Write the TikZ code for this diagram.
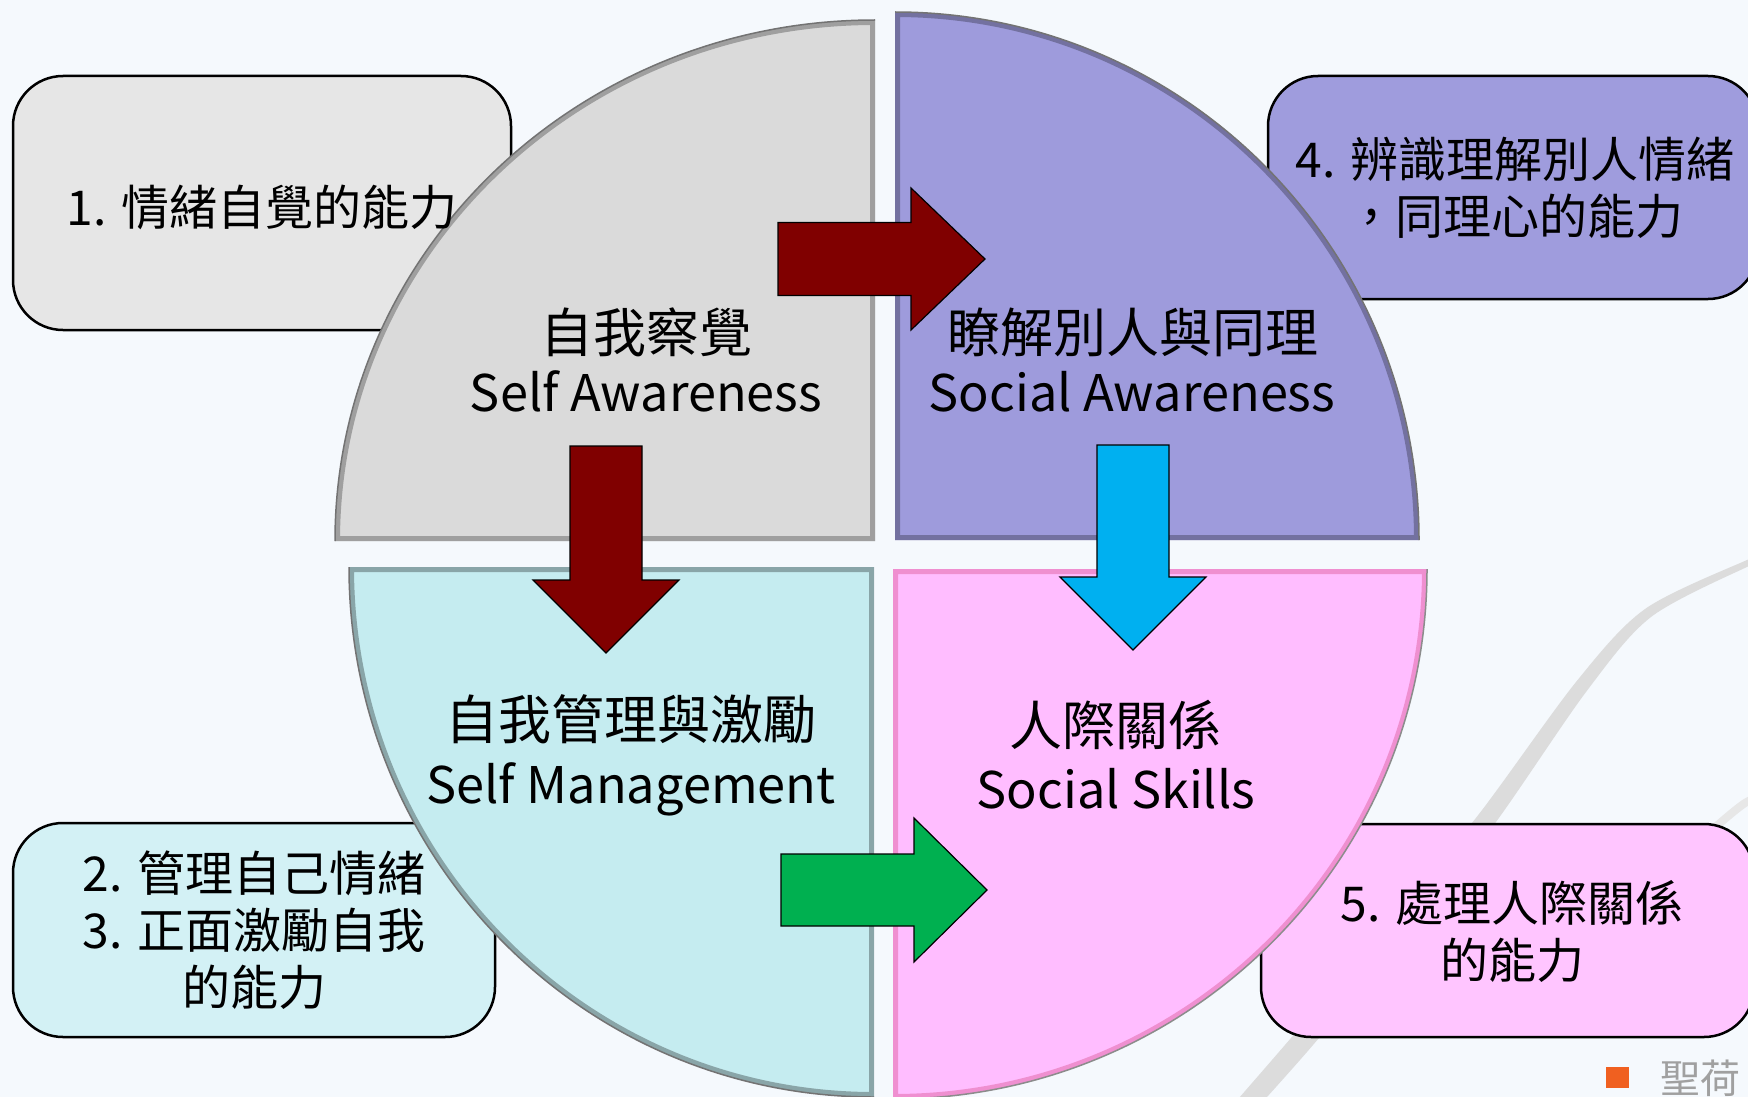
\documentclass[tikz,border=0pt]{standalone}
\usepackage{fontspec}
\setmainfont{Noto Sans CJK TC}
\definecolor{bg}{HTML}{F5F9FD}
\definecolor{qgray}{HTML}{DADADA}
\definecolor{qpurple}{HTML}{9E9BDC}
\definecolor{qcyan}{HTML}{C5ECF0}
\definecolor{qpink}{HTML}{FFBDFF}
\definecolor{bgray}{HTML}{E6E6E6}
\definecolor{bpurple}{HTML}{9F9CDD}
\definecolor{bcyan}{HTML}{D3F1F5}
\definecolor{bpink}{HTML}{FFC5FF}
\definecolor{darkred}{HTML}{800000}
\definecolor{acyan}{HTML}{00B0F0}
\definecolor{agreen}{HTML}{00B050}
\definecolor{swooshgray}{HTML}{DCDCDC}
\definecolor{logoorange}{HTML}{F06020}
\definecolor{logogray}{HTML}{A0A0A0}
\begin{document}
\begin{tikzpicture}[x=1pt,y=-1pt,
  qtl/.style={insert path={(875,541) -- (875,20) arc[start angle=270,end angle=180,x radius=540,y radius=521] -- cycle}},
  qtr/.style={insert path={(895,540) -- (895,12) arc[start angle=270,end angle=360,x radius=524,y radius=528] -- cycle}},
  qbl/.style={insert path={(874,567) -- (349,567) arc[start angle=180,end angle=90,x radius=525,y radius=530] -- cycle}},
  qbr/.style={insert path={(893,569) -- (1427,569) arc[start angle=0,end angle=90,x radius=534,y radius=530] -- cycle}},
  boxshape/.style={draw=black, line width=2.5pt, rounded corners=50pt},
  blockarrow/.style={draw=black, line width=1.2pt, line join=miter},
  qcjk/.style={inner sep=0pt, font=\fontsize{53}{60}\selectfont},
  qlat/.style={inner sep=0pt, anchor=base, font=\fontsize{50.5}{60}\selectfont},
  btxt/.style={inner sep=0pt, align=center, font=\fontsize{48}{57}\selectfont},
]
\useasboundingbox (0,0) rectangle (1748,1097);
\clip (0,0) rectangle (1748,1097);
\fill[bg] (0,0) rectangle (1748,1097);

% background swooshes
\fill[swooshgray] plot[smooth] coordinates {(1248,1118) (1313,1045) (1408,931) (1493,826) (1586,692) (1651,617) (1749,566) (1771,559)}
  -- plot[smooth] coordinates {(1769,553) (1747,560) (1645,609) (1576,682) (1479,814) (1392,919) (1297,1031) (1232,1106)} -- cycle;
\draw[swooshgray!70, line width=8pt] plot[smooth] coordinates {(1775,790) (1745,803) (1712,830)};

% side boxes
\draw[boxshape, fill=bgray] (13,76) rectangle (511,330);
\draw[boxshape, fill=bpurple] (1268,76) rectangle (1758,299);
\draw[boxshape, fill=bcyan] (13,823) rectangle (495,1037);
\draw[boxshape, fill=bpink] (1261,824) rectangle (1754,1037);

% quadrants
\begin{scope}
  \clip[qtl];
  \fill[qgray, qtl];
  \draw[qgray!55!black, opacity=0.6, line width=10pt, qtl];
\end{scope}
\draw[black!55, line width=1.5pt] (875,20) arc[start angle=270,end angle=180,x radius=540,y radius=521];
\begin{scope}
  \clip[qtr];
  \fill[qpurple, qtr];
  \draw[qpurple!55!black, opacity=0.6, line width=10pt, qtr];
\end{scope}
\draw[black!55, line width=1.5pt] (895,12) arc[start angle=270,end angle=360,x radius=524,y radius=528];
\begin{scope}
  \clip[qbl];
  \fill[qcyan, qbl];
  \draw[qcyan!50!black, opacity=0.6, line width=10pt, qbl];
\end{scope}
\draw[black!55, line width=1.5pt] (349,567) arc[start angle=180,end angle=90,x radius=525,y radius=530];
\begin{scope}
  \clip[qbr];
  \fill[qpink, qbr];
  \draw[qpink!60!purple, opacity=0.6, line width=10pt, qbr];
\end{scope}
\draw[black!45, line width=1.5pt] (1427,569) arc[start angle=0,end angle=90,x radius=534,y radius=530];

% block arrows
\draw[blockarrow, fill=darkred] (778,222.5) -- (911,222.5) -- (911,188) -- (985,259) -- (911,330) -- (911,295.5) -- (778,295.5) -- cycle;
\draw[blockarrow, fill=darkred] (570,446) -- (642,446) -- (642,580) -- (679,580) -- (606,653) -- (533,580) -- (570,580) -- cycle;
\draw[blockarrow, fill=acyan] (1097,445) -- (1169,445) -- (1169,577) -- (1206,577) -- (1133,650) -- (1060,577) -- (1097,577) -- cycle;
\draw[blockarrow, fill=agreen] (781,854) -- (914,854) -- (914,818) -- (987,890) -- (914,962) -- (914,926) -- (781,926) -- cycle;

% quadrant labels
\node[qcjk] (tlA) at (646,332) {自我察覺};
\node[qlat] (tlB) at (646,411) {Self Awareness};
\node[qcjk] (trA) at (1133,332) {瞭解別人與同理};
\node[qlat] (trB) at (1132,411) {Social Awareness};
\node[qcjk] (blA) at (631,719) {自我管理與激勵};
\node[qlat] (blB) at (631,803) {Self Management};
\node[qcjk] (brA) at (1115,725) {人際關係};
\node[qlat] (brB) at (1116,808) {Social Skills};

% box texts
\node[btxt] (t1) at (262,207) {1. 情緒自覺的能力};
\node[btxt] (t4) at (1515,188) {4. 辨識理解別人情緒\\，同理心的能力};
\node[btxt] (t23) at (254,930) {2. 管理自己情緒\\3. 正面激勵自我\\的能力};
\node[btxt] (t5) at (1512,931) {5. 處理人際關係\\的能力};

% logo
\fill[logoorange] (1606,1067) rectangle (1629,1088);
\node[inner sep=0pt, anchor=west, text=logogray, font=\fontsize{40}{40}\selectfont] (logo) at (1660,1078) {聖荷};
\end{tikzpicture}
\end{document}
